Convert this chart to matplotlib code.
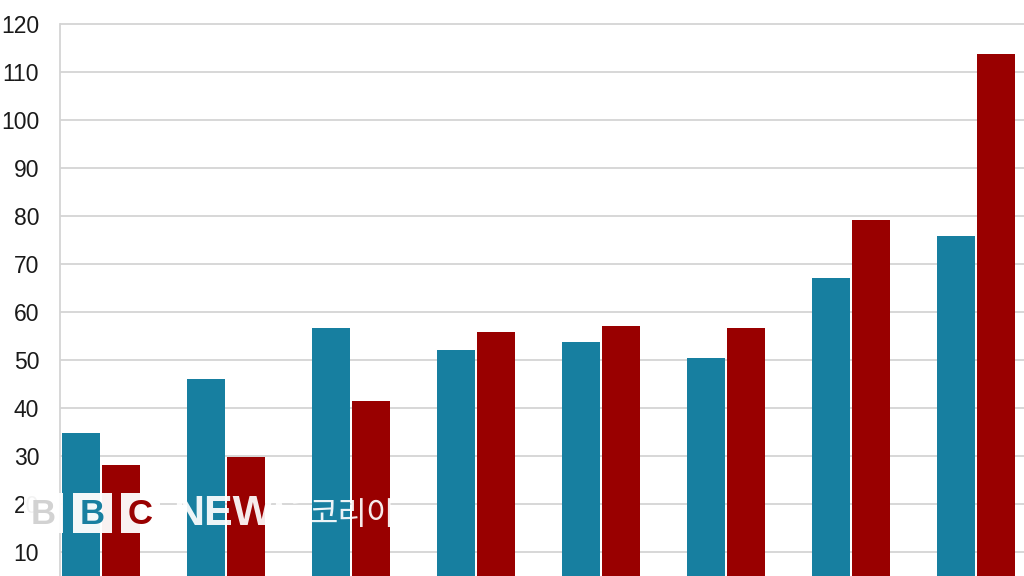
import matplotlib
matplotlib.use("Agg")
import matplotlib.pyplot as plt
import numpy as np
from matplotlib.patches import Rectangle

plt.rcParams['font.family'] = ['Liberation Sans', 'Noto Sans CJK KR', 'DejaVu Sans']

groups = np.arange(8)
blue_vals = [34.8, 46.0, 56.7, 52.1, 53.8, 50.4, 67.1, 75.8]
red_vals = [28.1, 29.8, 41.5, 55.8, 57.1, 56.7, 79.2, 113.8]
yticks = [10, 20, 30, 40, 50, 60, 70, 80, 90, 100, 110, 120]

BLUE = "#177fa0"
RED = "#990000"

W, H = 1024, 576
fig = plt.figure(figsize=(W / 100, H / 100), dpi=100)
ax = fig.add_axes([60 / W, 0, 964 / W, 1])

bw = 0.304
ax.bar(groups - 0.16, blue_vals, width=bw, color=BLUE, zorder=3)
ax.bar(groups + 0.16, red_vals, width=bw, color=RED, zorder=3)

ax.set_xlim(-0.328, 7.384)
ax.set_ylim(5, 125)
ax.set_yticks(yticks)
ax.set_xticks([])
ax.yaxis.grid(True, color="#d4d4d4", lw=1.3, zorder=0)
ax.tick_params(axis="y", length=0, pad=15, labelsize=16.5, labelcolor="#1a1a1a")
for s in ["top", "right", "bottom"]:
    ax.spines[s].set_visible(False)
ax.spines["left"].set_color("#d4d4d4")
ax.spines["left"].set_linewidth(1.3)
ax.spines["left"].set_bounds(0, 120)


# BBC NEWS 코리아 watermark (pixel coords, top-left origin)
def box(x0, y0, x1, y1):
    fig.patches.append(Rectangle((x0 / W, 1 - y1 / H), (x1 - x0) / W, (y1 - y0) / H,
                                 transform=fig.transFigure, facecolor="white",
                                 alpha=0.95, edgecolor="none", zorder=10))


for (x0, x1), letter, col in [((24, 63), "B", "#d2d2d2"), ((73, 112), "B", BLUE), ((121, 160), "C", RED)]:
    box(x0, 493, x1, 533)
    fig.text((x0 + x1) / 2 / W, 1 - 514 / H, letter, ha="center", va="center",
             fontsize=25, fontweight="bold", color=col, zorder=11)

fig.text(173 / W, 1 - 514 / H, "NEWS", ha="left", va="center", fontsize=31,
         fontweight="bold", color="white", alpha=0.92, zorder=11)
fig.text(308 / W, 1 - 515 / H, "코리아", ha="left", va="center", fontsize=23,
         family=["Noto Sans CJK KR"], color="white", alpha=0.92, zorder=11)

fig.savefig("out.png", dpi=100)
